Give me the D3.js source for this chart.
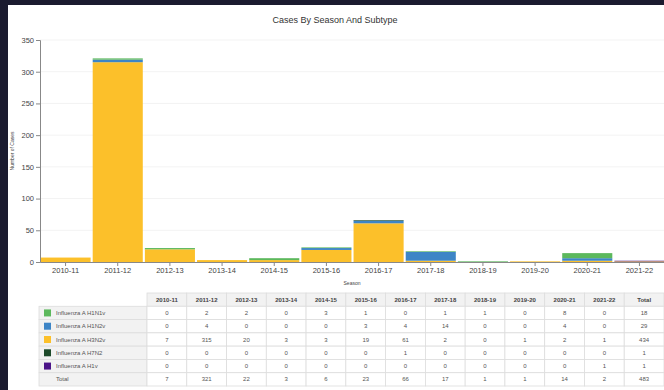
<!DOCTYPE html>
<html>
<head>
<meta charset="utf-8">
<script src="https://cdn.jsdelivr.net/npm/d3@7"></script>
<style>
  body { margin: 0; padding: 0; background: #1b1b2f; }
  svg { display: block; font-family: Arial, "Liberation Sans", sans-serif; }
  .axis text { fill: #444; font-size: 7.5px; }
  .axis path, .axis line { stroke: #888; }
  .grid line { stroke: #f3f3f3; }
  .cell { fill: #fff; stroke: #ddd; stroke-width: 0.8; }
  .hcell { fill: #f2f2f2; stroke: #ddd; stroke-width: 0.8; }
  .ctext { fill: #555; font-size: 6px; text-anchor: middle; }
</style>
</head>
<body>
<script>
(function(){

//chart data
var seasons = ["2010-11", "2011-12", "2012-13", "2013-14", "2014-15", "2015-16",
               "2016-17", "2017-18", "2018-19", "2019-20", "2020-21", "2021-22"];
var subtypes = ["Influenza A H1N1v", "Influenza A H1N2v", "Influenza A H3N2v", "Influenza A H7N2", "Influenza A H1v"];
var subtypeColors = ["#5cb85c", "#3d85c6", "#fcc02a", "#1d4a2a", "#4b1488"];
var h1n1v = [0, 2, 2, 0, 3, 1, 0, 1, 1, 0, 8, 0];
var h1n2v = [0, 4, 0, 0, 0, 3, 4, 14, 0, 0, 4, 0];
var h3n2v = [7, 315, 20, 3, 3, 19, 61, 2, 0, 1, 2, 1];
var h7n2  = [0, 0, 0, 0, 0, 0, 1, 0, 0, 0, 0, 0];
var h1v   = [0, 0, 0, 0, 0, 0, 0, 0, 0, 0, 0, 1];
var yTicks = [0, 50, 100, 150, 200, 250, 300, 350];

var seriesValues = [h1n1v, h1n2v, h3n2v, h7n2, h1v];
//stacking order bottom to top
var stackOrder = [2, 1, 0, 3, 4];

var width = 664, height = 390;

var svg = d3.select("body").append("svg")
    .attr("width", width)
    .attr("height", height);

//dark frame and white page
svg.append("rect").attr("width", width).attr("height", height).attr("fill", "#1b1b2f");
svg.append("rect").attr("x", 8).attr("y", 5).attr("width", width - 8).attr("height", height - 5).attr("fill", "#fff");

//title
svg.append("text")
    .attr("x", 335).attr("y", 23)
    .attr("text-anchor", "middle")
    .attr("font-size", "9px")
    .attr("fill", "#333")
    .text("Cases By Season And Subtype");

//build table rows for stacking
var rows = seasons.map(function(s, i){
    var r = { season: s };
    subtypes.forEach(function(t, j){ r[t] = seriesValues[j][i]; });
    return r;
});

var stack = d3.stack()
    .keys(stackOrder.map(function(j){ return subtypes[j]; }));
var stacked = stack(rows);

var x = d3.scaleBand()
    .domain(seasons)
    .range([40, 665])
    .paddingInner(0.04)
    .paddingOuter(0.01);

var y = d3.scaleLinear()
    .domain([0, 350])
    .range([262, 40]);

//gridlines
svg.append("g")
    .attr("class", "grid")
    .selectAll("line")
    .data(yTicks.slice(1))
    .enter()
    .append("line")
    .attr("x1", 40).attr("x2", 664)
    .attr("y1", function(d){ return y(d); })
    .attr("y2", function(d){ return y(d); });

//bars
var color = d3.scaleOrdinal().domain(subtypes).range(subtypeColors);

svg.append("g")
    .selectAll("g")
    .data(stacked)
    .enter()
    .append("g")
    .attr("fill", function(d){ return color(d.key); })
    .selectAll("rect")
    .data(function(d){ return d; })
    .enter()
    .append("rect")
    .attr("x", function(d){ return x(d.data.season); })
    .attr("width", x.bandwidth())
    .attr("y", function(d){ return y(d[1]); })
    .attr("height", function(d){ return y(d[0]) - y(d[1]); });

//axes
svg.append("g")
    .attr("class", "axis")
    .attr("transform", "translate(40,0)")
    .call(d3.axisLeft(y).tickValues(yTicks).tickSize(4).tickPadding(2));

svg.append("g")
    .attr("class", "axis")
    .attr("transform", "translate(0,262)")
    .call(d3.axisBottom(x).tickSize(4).tickPadding(2).tickSizeOuter(0));

//axis titles
svg.append("text")
    .attr("x", 352).attr("y", 285)
    .attr("text-anchor", "middle")
    .attr("font-size", "5px")
    .attr("fill", "#444")
    .text("Season");

svg.append("text")
    .attr("transform", "translate(14,151) rotate(-90)")
    .attr("text-anchor", "middle")
    .attr("font-size", "5px")
    .attr("fill", "#444")
    .text("Number of Cases");

//data table
var columns = seasons.concat(["Total"]);
var colX = d3.scaleBand().domain(columns).range([147, 664]);
var rowKeys = ["header"].concat(subtypes).concat(["Total"]);
var rowY = d3.scaleBand().domain(rowKeys).range([293, 386]);

var totals = seasons.map(function(s, i){
    return d3.sum(seriesValues, function(v){ return v[i]; });
});
function rowValues(key){
    var vals;
    if (key == "Total"){
        vals = totals.slice();
    } else {
        vals = seriesValues[subtypes.indexOf(key)].slice();
    }
    vals.push(d3.sum(vals));
    return vals;
}

var table = svg.append("g");

//header row
var header = table.selectAll(".head")
    .data(columns)
    .enter()
    .append("g")
    .attr("class", "head");
header.append("rect")
    .attr("class", "hcell")
    .attr("x", function(d){ return colX(d); })
    .attr("y", rowY("header"))
    .attr("width", colX.bandwidth())
    .attr("height", rowY.bandwidth());
header.append("text")
    .attr("class", "ctext")
    .attr("font-weight", "bold")
    .style("fill", "#444")
    .attr("x", function(d){ return colX(d) + colX.bandwidth() / 2; })
    .attr("y", rowY("header") + rowY.bandwidth() / 2 + 2)
    .text(function(d){ return d; });

//body rows
var bodyRows = table.selectAll(".row")
    .data(rowKeys.slice(1))
    .enter()
    .append("g")
    .attr("class", "row");

bodyRows.append("rect")
    .attr("class", "hcell")
    .attr("x", 39)
    .attr("y", function(d){ return rowY(d); })
    .attr("width", 147 - 39)
    .attr("height", rowY.bandwidth());

bodyRows.filter(function(d){ return d != "Total"; })
    .append("rect")
    .attr("x", 44)
    .attr("y", function(d){ return rowY(d) + rowY.bandwidth() / 2 - 3.5; })
    .attr("width", 7).attr("height", 7)
    .attr("fill", function(d){ return color(d); });

bodyRows.append("text")
    .attr("x", 56)
    .attr("y", function(d){ return rowY(d) + rowY.bandwidth() / 2 + 2; })
    .attr("font-size", "6px")
    .attr("fill", "#555")
    .text(function(d){ return d; });

bodyRows.each(function(key){
    var g = d3.select(this);
    var vals = rowValues(key);
    var cells = g.selectAll(".c")
        .data(vals)
        .enter()
        .append("g")
        .attr("class", "c");
    cells.append("rect")
        .attr("class", "cell")
        .attr("x", function(d, i){ return colX(columns[i]); })
        .attr("y", rowY(key))
        .attr("width", colX.bandwidth())
        .attr("height", rowY.bandwidth());
    cells.append("text")
        .attr("class", "ctext")
        .attr("x", function(d, i){ return colX(columns[i]) + colX.bandwidth() / 2; })
        .attr("y", rowY(key) + rowY.bandwidth() / 2 + 2)
        .text(function(d){ return d; });
});

})();
</script>
</body>
</html>
